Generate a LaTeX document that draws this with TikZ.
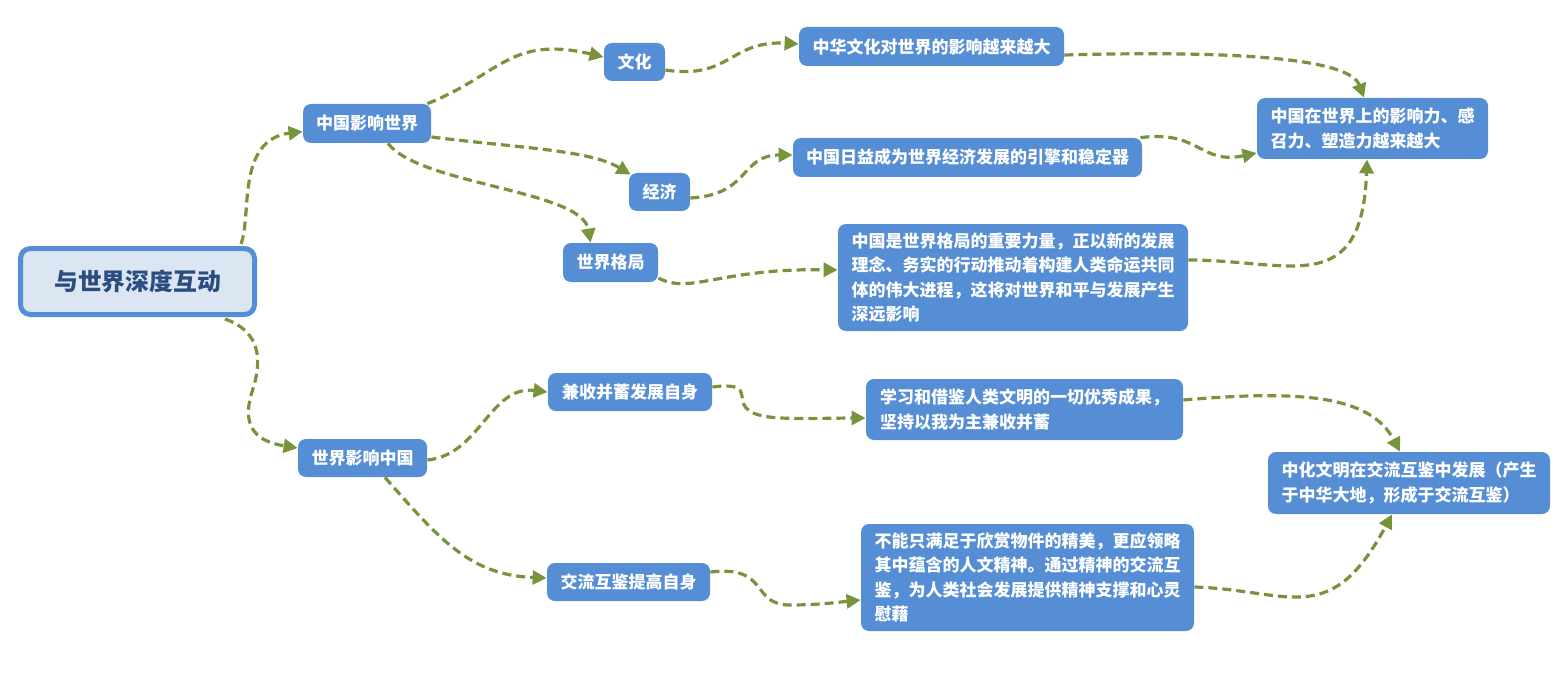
\documentclass[tikz,border=0pt]{standalone}
\usepackage{fontspec}
\newfontfamily\cjk{Noto Sans CJK SC}
\usetikzlibrary{arrows.meta}
\definecolor{boxblue}{HTML}{558ED5}
\definecolor{rootfill}{HTML}{DCE6F2}
\definecolor{roottext}{HTML}{2B4C7E}
\definecolor{olive}{HTML}{77933C}
\tikzset{
  box/.style={draw=none, fill=boxblue, rounded corners=4pt, text=white, align=left,
    font=\cjk\bfseries\fontsize{8.5}{12.25}\selectfont, inner sep=0pt},
  rootbox/.style={draw=boxblue, line width=2.5pt, fill=rootfill, rounded corners=5pt,
    text=roottext, font=\cjk\bfseries\fontsize{11.9}{14}\selectfont, inner sep=0pt},
  link/.style={draw=olive, line width=1.6pt, dash pattern=on 4.5pt off 2.5pt,
    -{Triangle[length=7pt,width=7pt]}},
}
\begin{document}
\begin{tikzpicture}[x=0.5pt,y=-0.5pt]
\useasboundingbox (0,0) rectangle (1566,684);

\node[rootbox, minimum width=117pt, minimum height=33pt] (root) at (137.5,281.5) {与世界深度互动};

\node[box, minimum width=64pt, minimum height=19.5pt] (A) at (367,123.5) {中国影响世界};
\node[box, minimum width=30.5pt, minimum height=19pt] (B) at (634.5,62) {文化};
\node[box, minimum width=132.5pt, minimum height=19.5pt] (C) at (931.5,46.5) {中华文化对世界的影响越来越大};
\node[box, minimum width=30.5pt, minimum height=19pt] (D) at (659.5,192) {经济};
\node[box, minimum width=174.5pt, minimum height=19.5pt] (E) at (967.5,157.5) {中国日益成为世界经济发展的引擎和稳定器};
\node[box, minimum width=47.5pt, minimum height=19.5pt] (F) at (610.5,262.5) {世界格局};
\node[box, minimum width=175pt, minimum height=53.5pt] (G) at (1013,277.5) {中国是世界格局的重要力量，正以新的发展\\理念、务实的行动推动着构建人类命运共同\\体的伟大进程，这将对世界和平与发展产生\\深远影响};
\node[box, minimum width=115.5pt, minimum height=30.5pt] (H) at (1372.5,128.5) {中国在世界上的影响力、感\\召力、塑造力越来越大};

\node[box, minimum width=64.5pt, minimum height=19pt] (I) at (362.5,458) {世界影响中国};
\node[box, minimum width=82pt, minimum height=19pt] (J) at (630,392) {兼收并蓄发展自身};
\node[box, minimum width=158.5pt, minimum height=30.5pt] (K) at (1024.5,409.5) {学习和借鉴人类文明的一切优秀成果，\\坚持以我为主兼收并蓄};
\node[box, minimum width=141pt, minimum height=31pt] (L) at (1409,483) {中化文明在交流互鉴中发展（产生\\于中华大地，形成于交流互鉴）};
\node[box, minimum width=81.5pt, minimum height=19pt] (M) at (628.5,582) {交流互鉴提高自身};
\node[box, minimum width=166.5pt, minimum height=53.5pt] (N) at (1027.5,577.5) {不能只满足于欣赏物件的精美，更应领略\\其中蕴含的人文精神。通过精神的交流互\\鉴，为人类社会发展提供精神支撑和心灵\\慰藉};

% connectors
\draw[link] ([xshift=-8pt,yshift=1pt]root.north east) .. controls (252,215) and (236,140) .. ([yshift=-4pt]A.west);
\draw[link] ([xshift=-16pt,yshift=-1pt]root.south east) .. controls (262,332) and (262,362) .. (252,392) .. controls (240,430) and (260,442) .. ([yshift=5pt]I.west);

\draw[link] ([xshift=-2pt]A.north east) .. controls (500,75) and (510,35) .. ([yshift=2.5pt]B.west);
\draw[link] ([yshift=-6.75pt]A.east) .. controls (520,148) and (590,150) .. ([xshift=1pt,yshift=-1pt]D.north west);
\draw[link] ([xshift=10.5pt]A.south) .. controls (420,185) and (582,190) .. ([xshift=-10pt]F.north);

\draw[link] ([yshift=-4pt]B.east) .. controls (730,80) and (730,40) .. ([yshift=1.25pt]C.west);
\draw[link] ([yshift=-3pt]D.east) .. controls (750,195) and (740,155) .. ([yshift=1.25pt]E.west);
\draw[link] ([yshift=-7.75pt]F.east) .. controls (690,295) and (720,268) .. ([yshift=3.75pt]G.west);

\draw[link] ([yshift=-4.25pt]C.east) .. controls (1250,50) and (1350,60) .. ([xshift=-4.25pt]H.north);
\draw[link] ([xshift=-1pt]E.north east) .. controls (1200,130) and (1200,165) .. ([yshift=-12.25pt]H.west);
\draw[link] ([yshift=8.75pt]G.east) .. controls (1290,260) and (1362,300) .. ([xshift=-2.75pt]H.south);

\draw[link] ([yshift=-1pt]I.east) .. controls (480,455) and (490,385) .. (J.west);
\draw[link] ([xshift=11.25pt]I.south) .. controls (440,540) and (470,575) .. ([yshift=2pt]M.west);

\draw[link] ([yshift=2.5pt]J.east) .. controls (770,380) and (712,414) .. (780,418) .. controls (810,419) and (840,418) .. ([yshift=-4.25pt]K.west);
\draw[link] ([yshift=5pt]M.east) .. controls (770,565) and (750,605) .. (790,605) .. controls (820,605) and (840,602) .. ([yshift=-11.25pt]N.west);

\draw[link] ([yshift=4.75pt]K.east) .. controls (1300,390) and (1370,395) .. ([xshift=-4.5pt]L.north);
\draw[link] ([yshift=-4.75pt]N.east) .. controls (1290,590) and (1330,630) .. ([xshift=-8.5pt]L.south);
\end{tikzpicture}
\end{document}
